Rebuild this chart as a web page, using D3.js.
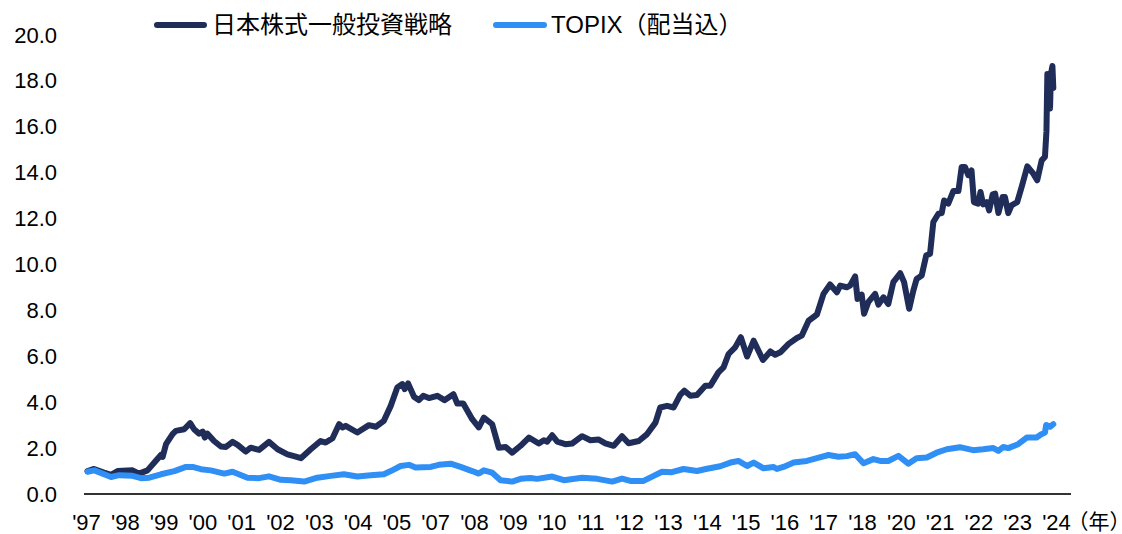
<!DOCTYPE html>
<html><head><meta charset="utf-8">
<script src="https://cdn.jsdelivr.net/npm/d3@7"></script>
<style>
html,body{margin:0;padding:0;background:#fff;}
svg text{font-family:"Liberation Sans","Noto Sans CJK JP",Arial,sans-serif;fill:#000;}
</style></head>
<body><svg id="chart" width="1122" height="534"></svg>
<script>
// Series names
const seriesNames = ["日本株式一般投資戦略", "TOPIX（配当込）"];
// x-axis labels (one every 13 months)
const xLabels = ["'97","'98","'99","'00","'01","'02","'03","'04","'05","'07","'08","'09","'10","'11","'12","'13","'14","'15","'16","'17","'18","'20","'21","'22","'23","'24"];
const labelStepMonths = 13;
const yTicks = [0,2,4,6,8,10,12,14,16,18,20];

// Strategy: month offset and value
const stratMonths = [0.5,2.7,6.0,8.4,10.6,15.6,17.8,20.6,22.9,25.1,
25.7,26.8,29.0,30.1,32.9,34.9,36.2,37.9,39.1,39.8,
40.7,42.9,45.2,46.9,49.1,50.8,53.5,55.2,58.0,61.3,
64.2,67.5,69.7,72.0,75.3,78.6,80.3,82.6,84.8,85.9,
87.0,90.9,94.8,97.1,99.8,102.1,104.3,106.0,106.8,107.9,
109.9,111.5,113.0,114.9,117.7,120.1,123.1,124.4,126.4,129.4,
131.6,133.3,136.1,138.3,140.6,142.8,145.6,148.4,151.7,153.4,
154.5,156.2,157.9,160.6,162.9,166.2,169.0,171.8,174.0,176.8,
179.6,181.8,185.2,188.0,190.8,192.4,194.7,196.9,199.1,200.5,
202.5,204.7,207.5,209.2,211.9,213.6,215.3,217.5,219.4,221.5,
223.7,226.8,229.3,230.9,232.8,235.4,238.2,239.8,242.1,244.9,
247.1,249.3,251.6,252.7,254.9,256.0,257.7,258.5,259.9,260.7,
262.1,264.4,265.5,267.2,268.8,270.5,272.8,274.1,275.8,277.2,
278.3,280.0,281.5,282.8,283.9,285.6,286.7,287.5,288.9,290.6,
292.3,293.4,294.5,295.6,296.7,297.5,298.9,299.7,300.6,301.8,
302.6,303.8,304.6,305.7,307.1,307.9,309.0,310.1,312.0,313.5,
315.4,317.4,318.7,320.2,321.3,321.8,322.1,322.5,323.0,323.3,
323.8,324.1];
const stratValues = [1.00,1.09,0.93,0.83,1.00,1.03,0.89,1.03,1.37,1.70,
1.62,2.17,2.61,2.75,2.82,3.09,2.82,2.63,2.72,2.46,
2.63,2.31,2.07,2.05,2.27,2.14,1.85,2.02,1.92,2.27,
1.95,1.73,1.65,1.56,1.95,2.31,2.24,2.43,3.04,2.90,
2.97,2.68,3.00,2.93,3.19,3.84,4.64,4.79,4.57,4.82,
4.24,4.09,4.28,4.18,4.28,4.09,4.35,3.94,3.94,3.26,
2.90,3.33,3.04,2.02,2.05,1.80,2.10,2.46,2.20,2.34,
2.28,2.56,2.28,2.17,2.20,2.52,2.34,2.37,2.21,2.10,
2.52,2.21,2.31,2.61,3.11,3.77,3.84,3.77,4.32,4.50,
4.28,4.31,4.72,4.72,5.30,5.52,6.10,6.39,6.83,5.99,
6.68,5.84,6.21,6.07,6.19,6.54,6.80,6.90,7.55,7.82,
8.72,9.13,8.79,9.08,9.01,9.08,9.48,8.50,8.69,7.85,
8.36,8.72,8.25,8.57,8.28,9.23,9.62,9.23,8.07,8.86,
9.37,9.52,10.39,10.47,11.85,12.21,12.24,12.79,12.65,13.20,
13.20,14.25,14.25,13.89,14.10,12.72,12.65,13.16,12.62,12.72,
12.36,13.06,13.09,12.24,12.94,12.94,12.24,12.58,12.72,13.38,
14.28,13.96,13.67,14.54,14.69,15.80,18.30,18.00,16.80,18.30,
18.65,17.70];

// TOPIX (dividends included): month offset and value
const topixMonths = [0.5,2.8,8.4,11.1,15.6,18.4,21.2,25.1,29.6,33.5,
35.7,38.5,41.8,46.3,49.1,54.1,58.0,61.3,65.3,68.6,
73.1,77.5,82.0,86.4,90.9,95.4,99.8,102.1,105.4,108.2,
110.4,115.5,118.2,122.2,125.5,129.4,131.6,133.3,136.1,138.9,
142.8,145.6,148.9,151.1,156.2,160.1,166.2,171.3,176.3,179.6,
182.4,186.8,190.2,193.0,196.3,200.2,204.7,208.1,212.5,215.9,
218.6,221.5,223.7,227.0,230.4,231.5,233.7,237.1,241.5,244.9,
248.8,252.1,254.9,257.7,260.5,263.8,266.1,268.8,272.2,275.5,
278.3,281.7,285.0,288.4,292.8,297.2,300.6,304.0,305.7,307.3,
309.0,312.3,315.2,318.5,320.2,321.3,321.7,323.0,324.1];
const topixValues = [0.97,1.03,0.74,0.82,0.79,0.69,0.71,0.86,1.00,1.18,
1.18,1.08,1.03,0.89,0.97,0.71,0.69,0.77,0.62,0.60,
0.54,0.71,0.79,0.86,0.76,0.82,0.86,1.00,1.22,1.27,
1.15,1.18,1.27,1.32,1.18,1.00,0.89,1.03,0.93,0.60,
0.54,0.66,0.70,0.66,0.76,0.60,0.71,0.66,0.54,0.67,
0.57,0.57,0.79,0.97,0.95,1.09,1.00,1.10,1.21,1.37,
1.44,1.22,1.37,1.12,1.18,1.09,1.18,1.37,1.44,1.56,
1.70,1.62,1.65,1.73,1.34,1.52,1.44,1.44,1.66,1.32,
1.56,1.59,1.80,1.95,2.04,1.91,1.95,2.00,1.88,2.05,
2.00,2.17,2.46,2.46,2.61,2.68,3.01,2.93,3.04];

const colors = ["#1f2d58", "#2f8ff5"];

const svg = d3.select("#chart");
const lastLabelMonth = (xLabels.length - 1) * labelStepMonths;
const x = d3.scaleLinear().domain([0, lastLabelMonth]).range([86, 1056]);
const y = d3.scaleLinear().domain([0, 20]).range([494, 35]);

// Y axis labels
const yAxis = d3.axisLeft(y).tickValues(yTicks).tickFormat(d3.format(".1f")).tickSize(0).tickPadding(0);
const yg = svg.append("g").attr("transform", "translate(57,0)").call(yAxis);
yg.select(".domain").remove();
yg.selectAll("text").attr("font-size", 22).attr("fill", "#000").style("font-family", '"Liberation Sans",Arial,sans-serif');

// X axis
const xAxis = d3.axisBottom(x).tickValues(d3.range(xLabels.length).map(i => i * labelStepMonths))
  .tickFormat((d, i) => xLabels[i]).tickSize(0).tickPadding(0);
const xg = svg.append("g").attr("transform", "translate(0,494)").call(xAxis);
xg.select(".domain").remove();
xg.selectAll("text").attr("font-size", 22).attr("fill", "#000").attr("dy", null).attr("y", 36)
  .style("font-family", '"Liberation Sans",Arial,sans-serif');
svg.append("line").attr("x1", 84).attr("x2", 1071).attr("y1", y(0)).attr("y2", y(0))
  .attr("stroke", "#333").attr("stroke-width", 2);
svg.append("text").attr("x", 1078).attr("y", 529).attr("font-size", 21)
  .style("font-family", '"Noto Sans CJK JP",sans-serif')
  .style("font-feature-settings", '"halt" 1')
  .text("（年）");

// Lines
const line = d3.line().x(d => x(d[0])).y(d => y(d[1])).curve(d3.curveLinear);
const stratData = stratMonths.map((m, i) => [m, stratValues[i]]);
const topixData = topixMonths.map((m, i) => [m, topixValues[i]]);
[[stratData, colors[0]], [topixData, colors[1]]].forEach(([data, c]) => {
  svg.append("path").datum(data).attr("d", line).attr("fill", "none")
    .attr("stroke", c).attr("stroke-width", 6).attr("stroke-linejoin", "round").attr("stroke-linecap", "round");
});

// Legend
const legendItems = [{x1:157, x2:204, tx:212}, {x1:496, x2:544, tx:551}];
legendItems.forEach((it, i) => {
  svg.append("line").attr("x1", it.x1).attr("x2", it.x2).attr("y1", 25).attr("y2", 25)
    .attr("stroke", colors[i]).attr("stroke-width", 6).attr("stroke-linecap", "round");
  svg.append("text").attr("x", it.tx).attr("y", 25).attr("dy", "0.35em").attr("font-size", 24).text(seriesNames[i]);
});
</script></body></html>
